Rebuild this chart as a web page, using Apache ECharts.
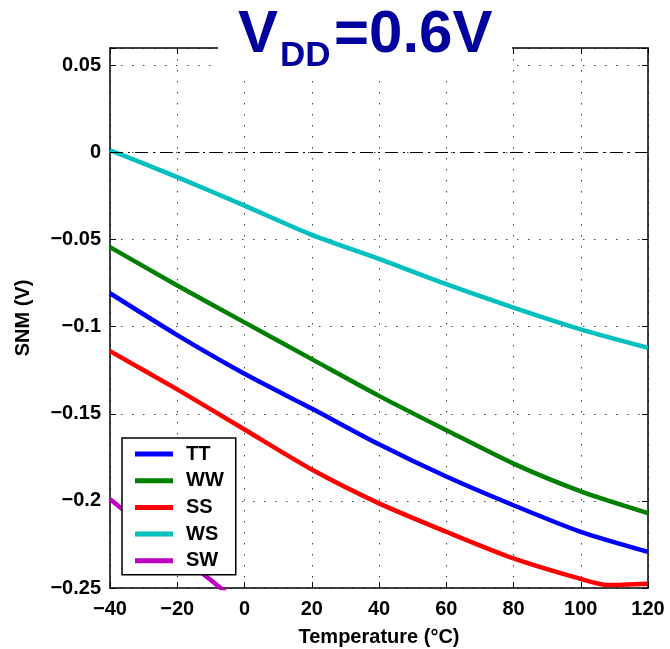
<!DOCTYPE html>
<html>
<head>
<meta charset="utf-8">
<script src="https://cdn.jsdelivr.net/npm/echarts@6/dist/echarts.min.js"></script>
<style>
  html, body { margin: 0; padding: 0; background: #fff; }
  #chart { width: 670px; height: 649px; }
</style>
</head>
<body>
<div id="chart"></div>
<script>
const temps = [-40, -20, 0, 20, 40, 60, 80, 100, 120];
const ttValues = [-0.0808, -0.1048, -0.127, -0.147, -0.1675, -0.186, -0.2025, -0.2178, -0.2293];
const wwValues = [-0.0543, -0.0763, -0.0975, -0.1186, -0.1397, -0.1594, -0.1786, -0.1945, -0.207];
const wsValues = [0.0013, -0.0141, -0.0305, -0.0473, -0.0611, -0.0756, -0.089, -0.1015, -0.1121];
const ssTemps = [-40, -20, 0, 20, 40, 60, 80, 100, 108, 120];
const ssValues = [-0.114, -0.136, -0.159, -0.182, -0.2014, -0.2177, -0.233, -0.2448, -0.2483, -0.2475];
const swTemps = [-40, -20, 0];
const swValues = [-0.199, -0.230, -0.261];

const xTicks = [-40, -20, 0, 20, 40, 60, 80, 100, 120];
const xTickLabels = ["\u221240", "\u221220", "0", "20", "40", "60", "80", "100", "120"];
const yTicks = [-0.25, -0.2, -0.15, -0.1, -0.05, 0, 0.05];
const yTickLabels = ["\u22120.25", "\u22120.2", "\u22120.15", "\u22120.1", "\u22120.05", "0", "0.05"];
const zeroLevel = 0;

const FONT = "'Liberation Sans', Arial, sans-serif";

function pair(xs, ys) {
  return xs.map((x, i) => [x, ys[i]]);
}

function tickLabel(ticks, labels, value) {
  const idx = ticks.findIndex((t) => Math.abs(t - value) < 1e-6);
  return idx >= 0 ? labels[idx] : "";
}

const seriesDefs = [
  { name: "TT", color: "#0000ff", data: pair(temps, ttValues) },
  { name: "WW", color: "#008000", data: pair(temps, wwValues) },
  { name: "SS", color: "#ff0000", data: pair(ssTemps, ssValues) },
  { name: "WS", color: "#00bfbf", data: pair(temps, wsValues) },
  { name: "SW", color: "#bf00bf", data: pair(swTemps, swValues) },
];

const gridLine = { show: true, lineStyle: { color: "#444", width: 1, type: [1.5, 9.5] } };
const axisLine = { show: true, onZero: false, lineStyle: { color: "#000", width: 1.5 } };
const tickStyle = { show: true, inside: true, length: 6, lineStyle: { color: "#000", width: 1 } };

const chart = echarts.init(document.getElementById("chart"), null, { renderer: "canvas" });

chart.setOption({
  backgroundColor: "#fff",
  animation: false,
  grid: {
    left: 110,
    right: 22,
    top: 48,
    bottom: 61,
    containLabel: false,
    outerBoundsMode: "none",
  },
  legend: {
    left: 122,
    top: 438,
    orient: "vertical",
    icon: "rect",
    itemWidth: 38,
    itemHeight: 5,
    itemGap: 6.7,
    padding: [6, 12, 4, 13],
    backgroundColor: "#fff",
    borderColor: "#000",
    borderWidth: 1.5,
    borderRadius: 0,
    textStyle: {
      color: "#000",
      fontFamily: FONT,
      fontWeight: "bold",
      fontSize: 20,
      lineHeight: 20,
      padding: [0, 0, 0, 8],
    },
    data: seriesDefs.map((s) => s.name),
  },
  xAxis: [
    {
      type: "value",
      min: -40,
      max: 120,
      interval: 20,
      name: "Temperature (\u00b0C)",
      nameLocation: "middle",
      nameGap: 39,
      nameTextStyle: { color: "#000", fontFamily: FONT, fontWeight: "bold", fontSize: 20 },
      axisLine: axisLine,
      axisTick: tickStyle,
      splitLine: gridLine,
      axisLabel: {
        color: "#000",
        fontFamily: FONT,
        fontWeight: "bold",
        fontSize: 20,
        margin: 11,
        formatter: (v) => tickLabel(xTicks, xTickLabels, v),
      },
    },
    {
      type: "value",
      position: "top",
      min: -40,
      max: 120,
      interval: 20,
      axisLine: axisLine,
      axisTick: tickStyle,
      axisLabel: { show: false },
      splitLine: { show: false },
    },
  ],
  yAxis: [
    {
      type: "value",
      min: -0.25,
      max: 0.06,
      interval: 0.05,
      name: "SNM (V)",
      nameLocation: "middle",
      nameGap: 77,
      nameTextStyle: { color: "#000", fontFamily: FONT, fontWeight: "bold", fontSize: 20 },
      axisLine: axisLine,
      axisTick: tickStyle,
      splitLine: gridLine,
      axisLabel: {
        color: "#000",
        fontFamily: FONT,
        fontWeight: "bold",
        fontSize: 20,
        margin: 9,
        formatter: (v) => tickLabel(yTicks, yTickLabels, v),
      },
    },
    {
      type: "value",
      position: "right",
      min: -0.25,
      max: 0.06,
      interval: 0.05,
      axisLine: axisLine,
      axisTick: tickStyle,
      axisLabel: { show: false },
      splitLine: { show: false },
    },
  ],
  series: seriesDefs.map((s, index) => ({
    type: "line",
    name: s.name,
    data: s.data,
    xAxisIndex: 0,
    yAxisIndex: 0,
    showSymbol: false,
    smooth: 0.25,
    clip: true,
    lineStyle: { color: s.color, width: 4.5 },
    itemStyle: { color: s.color },
    markLine:
      index === 0
        ? {
            symbol: "none",
            silent: true,
            label: { show: false },
            lineStyle: { color: "#000", width: 1, type: [13, 5, 2, 5] },
            data: [{ yAxis: zeroLevel }],
          }
        : undefined,
  })),
  graphic: [
    {
      type: "rect",
      z: 100,
      shape: { x: 218, y: 0, width: 294, height: 78 },
      style: { fill: "#fff" },
    },
    {
      type: "text",
      z: 101,
      style: { x: 238, y: 35, text: "V", font: "bold 60px " + FONT, fill: "#00009c", verticalAlign: "middle" },
    },
    {
      type: "text",
      z: 101,
      style: { x: 280, y: 56, text: "DD", font: "bold 35px " + FONT, fill: "#00009c", verticalAlign: "middle" },
    },
    {
      type: "text",
      z: 101,
      style: { x: 334, y: 35, text: "=0.6V", font: "bold 60px " + FONT, fill: "#00009c", verticalAlign: "middle" },
    },
  ],
});
</script>
</body>
</html>
